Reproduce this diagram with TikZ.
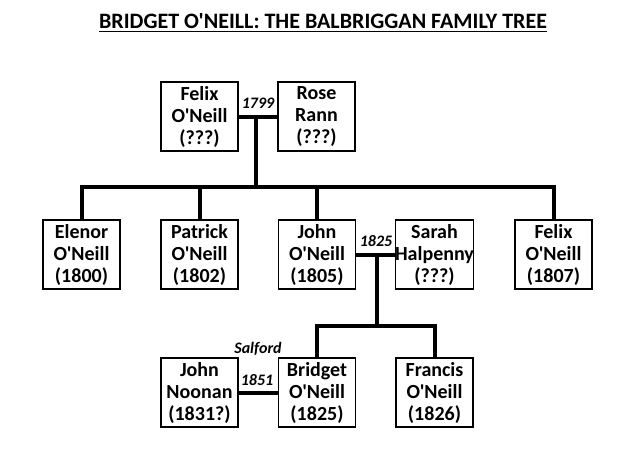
\documentclass[tikz,border=0pt]{standalone}
\usepackage{fontspec}
\setmainfont{Carlito}[Ligatures=TeXOff]
\begin{document}
\begin{tikzpicture}[x=1pt, y=-1pt, every node/.style={text centered},
		person/.style={rectangle, draw, line width=1.2pt, minimum width=77pt, minimum height=69pt, inner sep=0pt, align=center, font=\fontsize{20}{22}\selectfont\bfseries},
		year/.style={inner sep=1pt, font=\fontsize{16}{18}\selectfont\bfseries\itshape},
		link/.style={line width=4pt}]
		\useasboundingbox (0,0) rectangle (625,450);

		\node[inner sep=0pt, font=\fontsize{22}{24}\selectfont\bfseries] (title) at (323,21)
			{BRIDGET O'NEILL: THE BALBRIGGAN FAMILY TREE};
		\draw[line width=1.5pt] ([yshift=-3pt]title.base west) -- ([yshift=-3pt]title.base east);

		% first generation
		\node[person] (felix) at (199.5,116.5) {Felix\\O'Neill\\(???)};
		\node[person] (rose) at (316.5,116.5) {Rose\\Rann\\(???)};

		% children
		\node[person] (elenor) at (81.5,254.5) {Elenor\\O'Neill\\(1800)};
		\node[person] (patrick) at (199.5,254.5) {Patrick\\O'Neill\\(1802)};
		\node[person] (john) at (317,254.5) {John\\O'Neill\\(1805)};
		\node[person] (sarah) at (434.5,254.5) {Sarah\\Halpenny\\(???)};
		\node[person] (felixjr) at (553.5,254.5) {Felix\\O'Neill\\(1807)};

		% grandchildren
		\node[person] (noonan) at (199.5,392.5) {John\\Noonan\\(1831?)};
		\node[person] (bridget) at (317,392.5) {Bridget\\O'Neill\\(1825)};
		\node[person] (francis) at (434.5,392.5) {Francis\\O'Neill\\(1826)};

		% marriages
		\node[year] (wed1) at (258,103) {1799};
		\node[year] (wed2) at (376,241) {1825};
		\node[year] (wed3) at (257,380) {1851};
		\node[year] (place3) at (258,349) {Salford};

		\coordinate (m1) at (256,116.5);
		\coordinate (bar1) at (256,187);
		\coordinate (m2) at (376.5,254.5);
		\coordinate (bar2) at (376.5,326);

		\draw[link] (felix) -- (rose);
		\draw[link] (m1) -- (bar1);
		\draw[link] (elenor.north) |- (bar1) -| (felixjr.north);
		\draw[link] (patrick.north) -- (patrick.north |- bar1);
		\draw[link] (john.north) -- (john.north |- bar1);

		\draw[link] (john) -- (sarah);
		\draw[link] (m2) -- (bar2);
		\draw[link] (bridget.north) |- (bar2) -| (francis.north);

		\draw[link] (noonan) -- (bridget);
\end{tikzpicture}
\end{document}
